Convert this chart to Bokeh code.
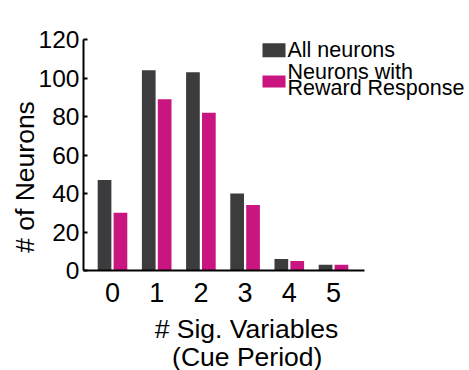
import math
from bokeh.plotting import figure
from bokeh.models import ColumnDataSource, FixedTicker, Range1d, Label, BoxAnnotation
from bokeh.transform import dodge
from bokeh.embed import file_html
from bokeh.resources import INLINE

categories = [0, 1, 2, 3, 4, 5]
all_neurons = [47, 104, 103, 40, 6, 3]
reward_neurons = [30, 89, 82, 34, 5, 3]
y_ticks = [0, 20, 40, 60, 80, 100, 120]
series_names = ["All neurons", "Neurons with", "Reward Response"]

DARK = "#3c3c3e"
MAGENTA = "#c8157f"
FONT = "Liberation Sans"

W, H = 469, 370
X0_PX, XSCALE = 83, 44.2        # pixel of x-axis start, pixels per category
Y0_PX, YSCALE = 270, 1.925      # pixel of y=0, pixels per unit
x_left = -0.656
x_start = x_left - X0_PX / XSCALE
x_end = x_start + W / XSCALE
y_end = Y0_PX / YSCALE
y_start = -(H - Y0_PX) / YSCALE

src = ColumnDataSource(dict(x=categories, all=all_neurons, rew=reward_neurons))

p = figure(width=W, height=H, output_backend="svg", toolbar_location=None,
           x_range=Range1d(x_start, x_end), y_range=Range1d(y_start, y_end),
           min_border=0)
p.outline_line_color = None
p.grid.visible = False
p.background_fill_color = "white"
p.border_fill_color = "white"

r1 = p.vbar(x=dodge("x", -0.18, range=p.x_range), top="all", width=0.31, source=src,
            fill_color=DARK, line_color=None)
r2 = p.vbar(x=dodge("x", 0.18, range=p.x_range), top="rew", width=0.31, source=src,
            fill_color=MAGENTA, line_color=None)

xa = p.xaxis[0]
xa.fixed_location = 0
xa.bounds = (x_left, 5.70)
xa.ticker = FixedTicker(ticks=categories)
xa.major_tick_line_color = None
xa.minor_tick_line_color = None
xa.axis_line_width = 2
xa.axis_line_color = "black"
xa.major_label_text_font = FONT
xa.major_label_text_font_size = "27px"
xa.major_label_text_color = "black"
xa.major_label_standoff = 6

ya = p.yaxis[0]
ya.fixed_location = x_left
ya.bounds = (0, 120)
ya.ticker = FixedTicker(ticks=y_ticks)
ya.major_tick_in = 4
ya.major_tick_out = 0
ya.major_tick_line_width = 2
ya.minor_tick_line_color = None
ya.axis_line_width = 2
ya.axis_line_color = "black"
ya.major_label_text_font = FONT
ya.major_label_text_font_size = "24.5px"
ya.major_label_text_color = "black"
ya.major_label_standoff = 4

def text(x, y, s, size, align="center", baseline="alphabetic", angle=0):
    p.add_layout(Label(x=x, y=y, x_units="screen", y_units="screen", text=s,
                       angle=angle, text_align=align, text_baseline=baseline,
                       text_font=FONT, text_font_size=size, text_color="black"))

# axis titles (screen units, frame covers the whole canvas)
text(24, H - 176.5, "# of Neurons", "26.5px", baseline="middle", angle=math.pi / 2)
text(246, H - 337.3 + 9, "# Sig. Variables", "26.5px")
text(246.7, H - 365 + 9, "(Cue Period)", "26.5px")

# legend
p.add_layout(BoxAnnotation(left=262, right=285, top=H - 42.7, bottom=H - 56.7,
                           left_units="screen", right_units="screen",
                           top_units="screen", bottom_units="screen",
                           fill_color=DARK, fill_alpha=1, line_color=None))
p.add_layout(BoxAnnotation(left=262, right=285, top=H - 75, bottom=H - 87,
                           left_units="screen", right_units="screen",
                           top_units="screen", bottom_units="screen",
                           fill_color=MAGENTA, fill_alpha=1, line_color=None))
text(287, H - 56.7 + 7.3, series_names[0], "21.5px", align="left")
text(287, H - 78.3 + 7.3, series_names[1], "21.5px", align="left")
text(287, H - 95 + 7.3, series_names[2], "21.5px", align="left")

open("out.html", "w").write(file_html(p, INLINE))
